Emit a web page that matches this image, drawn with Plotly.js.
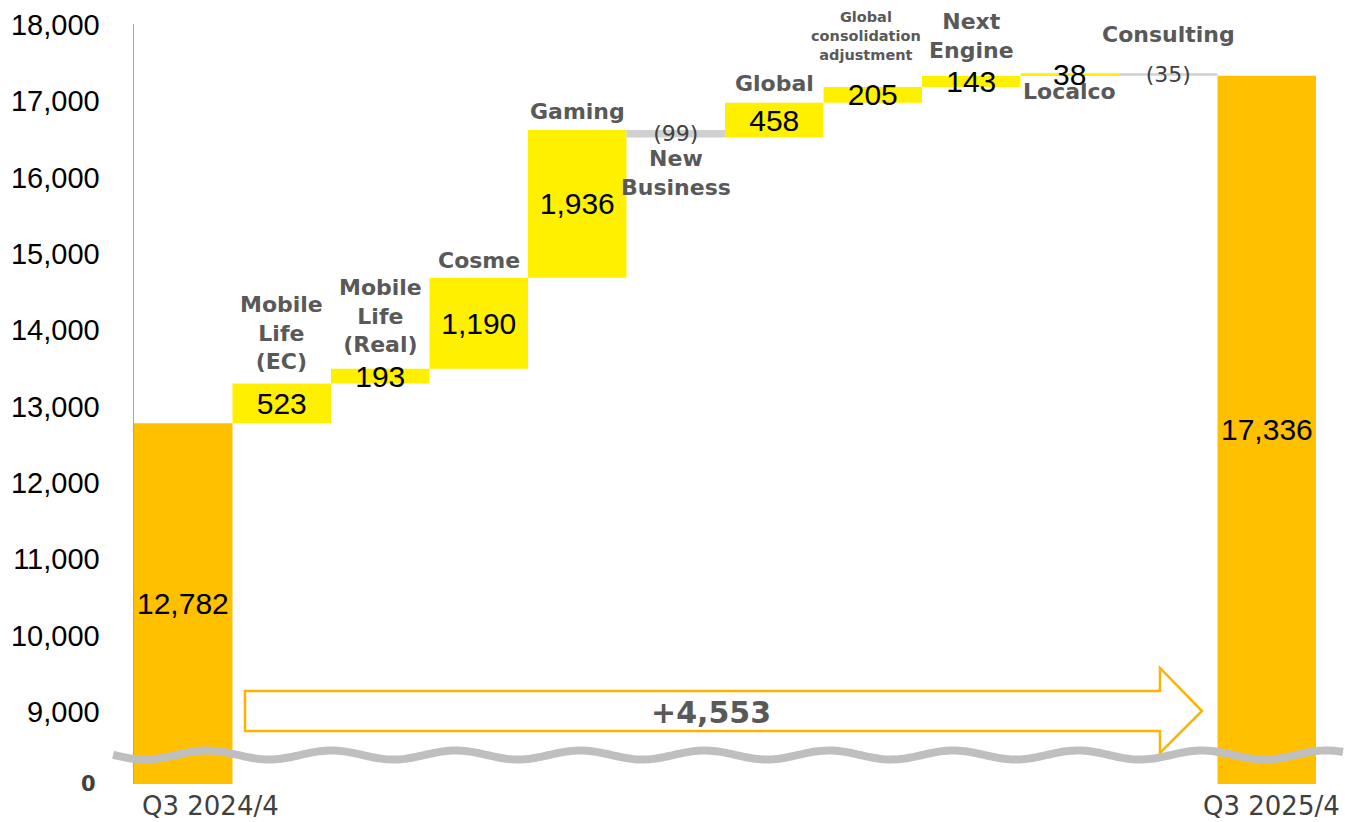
<!DOCTYPE html>
<html><head><meta charset="utf-8">
<script src="https://cdn.plot.ly/plotly-3.0.1.min.js"></script>
<style>html,body{margin:0;padding:0;background:#fff}#chart{width:1345px;height:822px}</style>
</head><body><div id="chart"></div>
<script>
// ---- data ----
const categories = ['Q3 2024/4','Mobile Life (EC)','Mobile Life (Real)','Cosme','Gaming','New Business','Global','Global consolidation adjustment','Next Engine','Localco','Consulting','Q3 2025/4'];
const categoryLabels = ['Q3 2024/4','Mobile<br>Life<br>(EC)','Mobile<br>Life<br>(Real)','Cosme','Gaming','New<br>Business','Global','Global<br>consolidation<br>adjustment','Next<br>Engine','Localco','Consulting','Q3 2025/4'];
const values = [12782, 523, 193, 1190, 1936, -99, 458, 205, 143, 38, -35, 17336];
const measures = ['absolute','relative','relative','relative','relative','relative','relative','relative','relative','relative','relative','absolute'];
const totalChangeLabel = '+4,553';
const yTickVals = [9000,10000,11000,12000,13000,14000,15000,16000,17000,18000];

// ---- layout config ----
const Y_MIN = 8057, Y_MAX = 18013;
const M = {l:134, r:29, t:24, b:38};
const W = 1345, H = 822;
const PW = W - M.l - M.r, PH = H - M.t - M.b;
const labelBelow = ['New Business','Localco'];
const labelShift = {'Mobile Life (EC)':7,'Mobile Life (Real)':10,'Cosme':3,'Gaming':4,'New Business':-6,'Global':5,'Global consolidation adjustment':22,'Next Engine':11,'Localco':-1,'Consulting':24};
const labelXShift = {'Global consolidation adjustment':-7};

const fmt = v => v < 0 ? '(' + Math.abs(v).toLocaleString('en-US') + ')' : v.toLocaleString('en-US');

// cumulative extents
let run = 0; const lo = [], hi = [];
values.forEach((v,i) => {
  let s, e;
  if (measures[i] === 'absolute') { s = 0; e = v; run = v; }
  else { s = run; e = run + v; run = e; }
  lo.push(Math.min(s,e)); hi.push(Math.max(s,e));
});

const isTotal = measures.map(m => m === 'absolute');
const barText = values.map((v,i) => isTotal[i] ? '' : fmt(v));
const ARIAL = 'Liberation Sans, Arial, sans-serif';
const VERD = 'DejaVu Sans, Verdana, sans-serif';

const trace = {
  type: 'waterfall',
  x: categories,
  y: values,
  measure: measures,
  text: barText,
  textinfo: 'text',
  textposition: 'inside',
  insidetextanchor: 'middle',
  constraintext: 'none',
  textfont: {
    family: values.map(v => v < 0 ? VERD : ARIAL),
    size: values.map(v => v < 0 ? 22 : 30),
    color: values.map(v => v < 0 ? '#404040' : '#000000')
  },
  increasing: {marker: {color: '#FFF000', line: {width: 0}}},
  decreasing: {marker: {color: '#D0D0D0', line: {width: 0}}},
  totals: {marker: {color: '#FFC000', line: {width: 0}}},
  connector: {visible: false},
  hoverinfo: 'skip'
};

const annotations = [];
// category labels above / below the floating bars
categories.forEach((c,i) => {
  if (isTotal[i]) return;
  const below = labelBelow.includes(c);
  const small = c === 'Global consolidation adjustment';
  annotations.push({
    x: c, y: below ? lo[i] : hi[i], xref: 'x', yref: 'y',
    text: '<b>' + categoryLabels[i] + '</b>', showarrow: false,
    xanchor: 'center', yanchor: below ? 'top' : 'bottom',
    yshift: labelShift[c] || 0, xshift: labelXShift[c] || 0,
    font: {family: VERD, size: small ? 14.5 : 22, color: '#595959'}
  });
});
// total bar values (centred in visible part)
categories.forEach((c,i) => {
  if (!isTotal[i]) return;
  annotations.push({
    x: c, y: (Y_MIN + values[i]) / 2, xref: 'x', yref: 'y',
    text: fmt(values[i]), showarrow: false, xanchor: 'center', yanchor: 'middle',
    font: {family: ARIAL, size: 30, color: '#000000'}
  });
});
// period labels on x axis
[[0, 27], [categories.length - 1, 5]].forEach(([i, dx]) => {
  annotations.push({
    x: categories[i], y: 0, xref: 'x', yref: 'paper',
    text: categoryLabels[i], showarrow: false, yanchor: 'top', xanchor: 'center',
    xshift: dx, yshift: -6, borderpad: 0,
    font: {family: VERD, size: 26, color: '#404040'}
  });
});
// broken axis zero label
annotations.push({
  x: 0, y: Y_MIN, xref: 'paper', yref: 'y', text: '<b>0</b>', showarrow: false,
  xanchor: 'right', yanchor: 'middle', xshift: -36, font: {family: VERD, size: 21, color: '#404040'}
});

const px = x => (x - M.l) / PW;
const py = y => (H - M.b - y) / PH;

// total change arrow
const arrowPts = [[245,691],[1160,691],[1160,668],[1202,711],[1160,753],[1160,731],[245,731]];
const arrowPath = 'M' + arrowPts.map(p => px(p[0]).toFixed(5) + ',' + py(p[1]).toFixed(5)).join(' L') + ' Z';
annotations.push({
  x: px(711), y: py(712), xref: 'paper', yref: 'paper', text: '<b>' + totalChangeLabel + '</b>',
  showarrow: false, xanchor: 'center', yanchor: 'middle',
  font: {family: VERD, size: 30, color: '#595959'}
});

// decorative wavy axis break
let wave = '';
for (let x = 113; x <= 1345; x += 3) {
  const y = 755 - 4.5 * Math.cos(2 * Math.PI * (x - 207) / 124.4);
  wave += (wave ? ' L' : 'M') + px(x).toFixed(5) + ',' + py(y).toFixed(5);
}

const layout = {
  width: W, height: H,
  margin: M,
  paper_bgcolor: '#ffffff', plot_bgcolor: '#ffffff',
  showlegend: false, hovermode: false,
  waterfallgap: 0,
  xaxis: {type: 'category', range: [-0.5, categories.length - 0.5], showticklabels: false,
          showgrid: false, zeroline: false, showline: false, ticks: '', fixedrange: true},
  yaxis: {range: [Y_MIN, Y_MAX], tickvals: yTickVals, tickformat: ',d', showgrid: false,
          zeroline: false, showline: true, linecolor: '#A6A6A6', linewidth: 1.5, ticks: '',
          ticklabelstandoff: 27, tickfont: {family: ARIAL, size: 29, color: '#000000'}, fixedrange: true},
  shapes: [
    {type: 'path', xref: 'paper', yref: 'paper', path: arrowPath, fillcolor: '#ffffff',
     line: {color: '#FFB300', width: 2.5}},
    {type: 'path', xref: 'paper', yref: 'paper', path: wave,
     line: {color: '#BFBFBF', width: 8}}
  ],
  annotations: annotations
};

Plotly.newPlot('chart', [trace], layout, {displayModeBar: false, staticPlot: true});
</script></body></html>
